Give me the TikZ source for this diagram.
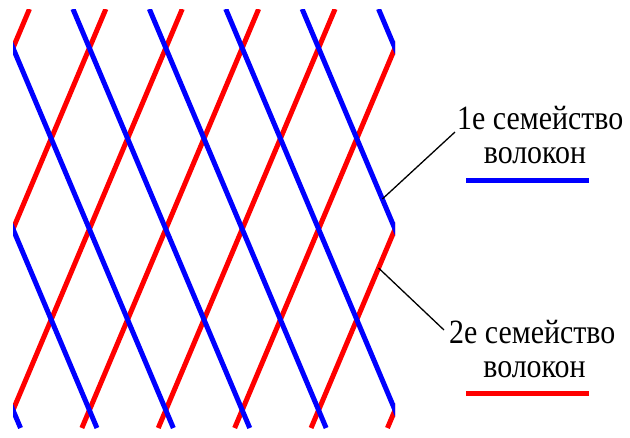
\documentclass[tikz,border=0pt]{standalone}
\usepackage{fontspec}
\setmainfont{Liberation Serif}
\tikzset{
  redfiber/.style={draw={rgb,255:red,255;green,0;blue,0}, line width=5pt},
  bluefiber/.style={draw={rgb,255:red,0;green,0;blue,255}, line width=5pt},
  leader/.style={draw=black, line width=1.3pt},
  lbl/.style={anchor=base, inner sep=0pt, align=center, font=\fontsize{34}{30}\selectfont},
}
\begin{document}
\begin{tikzpicture}[x=1pt,y=-1pt]
\useasboundingbox (0,0) rectangle (630,437);
\def\s{2.37}
\def\d{76.4}
\begin{scope}
  \clip (13,9) rectangle (395,428);
  \foreach \k in {0,...,7} {
    \draw[redfiber] ({13+\d*\k+39/\s},9) -- ({13+\d*\k-380/\s},428);
  }
  \foreach \k in {-2,...,5} {
    \draw[bluefiber] ({13+\d*\k-39/\s},9) -- ({13+\d*\k+380/\s},428);
  }
\end{scope}
% attachment points on the fibres
\coordinate (pb) at ({395-30/\s},199);
\coordinate (pr) at ({395-39/\s},268);
% labels (anchor base = baseline of the last line)
\node[lbl] (l1) at (535,163) {\scalebox{0.88}[1]{\hspace*{12pt}1е семейство}\\[4pt]\scalebox{0.88}[1]{волокон}};
\node[lbl] (l2) at (534.5,377) {\scalebox{0.88}[1]{2е семейство\hspace*{5pt}}\\[4pt]\scalebox{0.88}[1]{волокон}};
% legend lines
\coordinate (b1) at (466,180);
\coordinate (b2) at (589,180);
\coordinate (r1) at (466,393);
\coordinate (r2) at (589,393);
\draw[bluefiber] (b1) -- (b2);
\draw[redfiber] (r1) -- (r2);
% leaders
\coordinate (e1) at (455,132);
\coordinate (e2) at (444,330);
\draw[leader] (pb) -- (e1);
\draw[leader] (pr) -- (e2);
\end{tikzpicture}
\end{document}
